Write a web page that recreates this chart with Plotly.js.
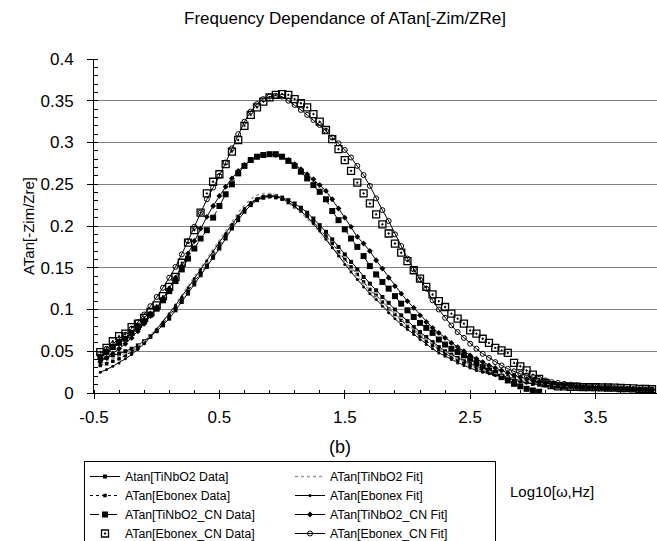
<!DOCTYPE html>
<html>
<head>
<meta charset="utf-8">
<script src="https://cdn.plot.ly/plotly-3.0.1.min.js"></script>
<style>html,body{margin:0;padding:0;background:#fff;}#chart{width:657px;height:541px;}</style>
</head>
<body>
<div id="chart"></div>
<script>
// log10 of angular frequency (x values)
const logw = [-0.45,-0.4,-0.35,-0.3,-0.25,-0.2,-0.15,-0.1,-0.05,0,
0.05,0.1,0.15,0.2,0.25,0.3,0.35,0.4,0.45,0.5,
0.55,0.6,0.65,0.7,0.75,0.8,0.85,0.9,0.95,1,
1.05,1.1,1.15,1.2,1.25,1.3,1.35,1.4,1.45,1.5,
1.55,1.6,1.65,1.7,1.75,1.8,1.85,1.9,1.95,2,
2.05,2.1,2.15,2.2,2.25,2.3,2.35,2.4,2.45,2.5,
2.55,2.6,2.65,2.7,2.75,2.8,2.85,2.9,2.95,3,
3.05,3.1,3.15,3.2,3.25,3.3,3.35,3.4,3.45,3.5,
3.55,3.6,3.65,3.7,3.75,3.8,3.85,3.9,3.95];

const tiNbO2Data = [.040,.042,.045,.047,.050,.053,.057,.062,.068,.074,
.081,.089,.099,.109,.119,.130,.141,.151,.162,.173,
.185,.197,.207,.217,.225,.231,.234,.236,.236,.234,
.231,.227,.222,.216,.209,.201,.193,.184,.175,.166,
.157,.148,.139,.131,.123,.115,.108,.100,.093,.086,
.079,.073,.067,.061,.055,.050,.046,.042,.038,.035,
.032,.029,.026,.023,.021,.019,.017,.015,.013,.011,
.010,.009,.008,.0075,.007,.0068,.0065,.0062,.006,.0058,
.0056,.0054,.0052,.005,.0048,.0046,.0044,.0042,.004];

const tiNbO2Fit = [.036,.038,.041,.044,.047,.051,.056,.062,.069,.077,
.086,.096,.106,.117,.128,.139,.150,.161,.172,.184,
.195,.206,.216,.225,.232,.237,.239,.239,.237,.233,
.228,.222,.216,.209,.201,.193,.184,.175,.166,.157,
.148,.140,.131,.123,.116,.108,.101,.094,.088,.082,
.076,.070,.064,.059,.054,.049,.045,.041,.037,.034,
.031,.028,.026,.023,.021,.019,.017,.015,.0135,.012,
.011,.010,.009,.0085,.008,.0074,.007,.0066,.0062,.0058,
.0055,.0052,.005,.0047,.0045,.0043,.0041,.0039,.0037];

const ebonexData = [.033,.035,.038,.041,.045,.049,.054,.060,.067,.075,
.083,.092,.102,.112,.122,.133,.144,.153,.164,.176,
.188,.200,.210,.220,.227,.232,.234,.235,.234,.232,
.228,.223,.218,.212,.205,.197,.188,.179,.169,.160,
.151,.142,.133,.124,.117,.109,.101,.094,.087,.080,
.074,.068,.062,.057,.052,.047,.043,.039,.036,.033,
.030,.027,.025,.022,.020,.018,.016,.0145,.013,.012,
.011,.010,.009,.0085,.008,.0075,.007,.0066,.0063,.006,
.0057,.0054,.0052,.005,.0048,.0046,.0044,.0042,.004];

const ebonexFit = [.025,.028,.032,.036,.041,.046,.052,.059,.067,.076,
.085,.095,.105,.115,.126,.137,.148,.158,.169,.180,
.191,.202,.212,.221,.228,.233,.236,.236,.235,.233,
.229,.224,.218,.211,.203,.194,.184,.174,.164,.154,
.145,.136,.127,.119,.112,.104,.096,.089,.082,.076,
.070,.064,.058,.053,.048,.044,.040,.036,.033,.030,
.027,.025,.023,.021,.019,.017,.015,.0135,.012,.011,
.010,.009,.0082,.0076,.007,.0066,.0062,.0058,.0055,.0052,
.005,.0048,.0046,.0044,.0042,.004,.0038,.0036,.0035];

const tiNbO2CNData = [.043,.049,.055,.060,.065,.072,.079,.086,.094,.101,
.111,.122,.134,.148,.161,.173,.185,.195,.210,.224,
.238,.250,.263,.272,.279,.283,.285,.286,.286,.283,
.278,.272,.265,.257,.249,.241,.232,.218,.207,.196,
.185,.175,.164,.152,.142,.133,.125,.116,.107,.099,
.091,.084,.078,.072,.064,.058,.053,.049,.045,.041,
.036,.031,.027,.024,.019,.015,.011,.008,.005,.003,
.0015];

const tiNbO2CNFit = [.037,.042,.047,.053,.059,.066,.074,.083,.092,.102,
.113,.125,.138,.152,.167,.182,.197,.211,.224,.236,
.247,.257,.266,.273,.279,.283,.285,.286,.285,.283,
.279,.274,.268,.262,.256,.249,.242,.232,.221,.210,
.199,.187,.179,.170,.159,.149,.138,.128,.119,.110,
.102,.093,.085,.078,.072,.066,.060,.055,.050,.045,
.041,.037,.033,.030,.027,.024,.021,.019,.017,.015,
.013,.012,.011,.010,.009,.0085,.008,.0075,.007,.0065,
.006,.0058,.0055,.0052,.005,.0047,.0045,.0042,.004];

const ebonexCNData = [.049,.054,.062,.068,.071,.079,.083,.090,.097,.105,
.116,.127,.139,.156,.180,.195,.216,.239,.253,.262,
.274,.289,.303,.320,.333,.342,.349,.354,.357,.358,
.357,.352,.347,.342,.334,.325,.315,.304,.292,.279,
.266,.252,.239,.227,.214,.202,.191,.179,.168,.158,
.147,.137,.127,.118,.110,.103,.095,.089,.083,.075,
.071,.065,.060,.054,.051,.048,.036,.032,.027,.022,
.017,.012,.0095,.008,.008,.0075,.0075,.007,.007,.007,
.0068,.0066,.0064,.006,.0058,.0055,.005,.0048,.0045];

const ebonexCNFit = [.047,.053,.058,.064,.070,.077,.085,.094,.104,.115,
.126,.138,.151,.166,.182,.199,.216,.232,.246,.260,
.276,.293,.310,.325,.337,.346,.352,.355,.356,.355,
.350,.345,.339,.333,.327,.321,.314,.306,.299,.291,
.282,.272,.261,.248,.233,.219,.206,.190,.176,.161,
.148,.136,.125,.111,.100,.090,.081,.073,.066,.059,
.053,.047,.042,.037,.033,.029,.026,.023,.021,.019,
.017,.015,.013,.012,.011,.010,.009,.0085,.008,.0075,
.007,.0065,.006,.0055,.005,.0048,.0045,.0042,.004];

const xTickVals = [-0.5, 0.5, 1.5, 2.5, 3.5];
const yTickVals = [0, 0.05, 0.1, 0.15, 0.2, 0.25, 0.3, 0.35, 0.4];

const FONT = 'Liberation Sans, Arial, Helvetica, sans-serif';

const traces = [
  {name:'ATan[Ebonex_CN Data]', x: logw.slice(0, ebonexCNData.length), y: ebonexCNData, mode:'markers', legendrank:7,
   marker:{symbol:'square-open-dot', size:7, color:'#000', line:{width:1.3, color:'#000'}}},
  {name:'ATan[TiNbO2_CN Data]', x: logw.slice(0, tiNbO2CNData.length), y: tiNbO2CNData, mode:'lines+markers', legendrank:5,
   line:{color:'#000', width:1, dash:'dash'}, marker:{symbol:'square', size:6, color:'#000'}},
  {name:'Atan[TiNbO2 Data]', x: logw.slice(0, tiNbO2Data.length), y: tiNbO2Data, mode:'lines+markers', legendrank:1,
   line:{color:'#000', width:1}, marker:{symbol:'square', size:4, color:'#000'}},
  {name:'ATan[Ebonex Data]', x: logw.slice(0, ebonexData.length), y: ebonexData, mode:'lines+markers', legendrank:3,
   line:{color:'#000', width:1, dash:'dot'}, marker:{symbol:'square', size:3.5, color:'#000'}},
  {name:'ATan[TiNbO2 Fit]', x: logw.slice(0, tiNbO2Fit.length), y: tiNbO2Fit, mode:'lines', legendrank:2,
   line:{color:'#9a9a9a', width:1.5, dash:'dot'}},
  {name:'ATan[Ebonex Fit]', x: logw.slice(0, ebonexFit.length), y: ebonexFit, mode:'lines+markers', legendrank:4,
   line:{color:'#000', width:1}, marker:{symbol:'circle', size:3, color:'#000'}},
  {name:'ATan[TiNbO2_CN Fit]', x: logw.slice(0, tiNbO2CNFit.length), y: tiNbO2CNFit, mode:'lines+markers', legendrank:6,
   line:{color:'#000', width:1}, marker:{symbol:'diamond', size:4.5, color:'#000'}},
  {name:'ATan[Ebonex_CN Fit]', x: logw.slice(0, ebonexCNFit.length), y: ebonexCNFit, mode:'lines+markers', legendrank:8,
   line:{color:'#000', width:1}, marker:{symbol:'circle-open', size:5, color:'#000', line:{width:1}}}
];

const layout = {
  width: 657, height: 541,
  margin: {l: 94, r: 0, t: 59, b: 148, pad: 0},
  paper_bgcolor: '#fff', plot_bgcolor: '#fff',
  font: {family: FONT, color: '#000'},
  showlegend: true,
  title: {text: 'Frequency Dependance of ATan[-Zim/ZRe]', font: {size: 17, family: FONT, color: '#000'},
          xref: 'container', x: 345/657, xanchor: 'center', yref: 'container', y: 1 - 18/541, yanchor: 'middle'},
  xaxis: {
    range: [-0.5, 3.99], tickmode: 'array', tickvals: xTickVals, ticktext: xTickVals.map(v => String(v)),
    showgrid: false, zeroline: false, showline: true, linecolor: '#000', linewidth: 1,
    ticks: 'outside', ticklen: 5, tickcolor: '#000', tickfont: {size: 17, family: FONT},
    ticklabelstandoff: 4,
    minor: {ticks: 'inside', ticklen: 3, tickcolor: '#000', dtick: 0.2, tick0: -0.5, showgrid: false}
  },
  yaxis: {
    range: [0, 0.4], tickmode: 'array', tickvals: yTickVals, ticktext: yTickVals.map(v => String(v)),
    showgrid: true, gridcolor: '#808080', gridwidth: 1, zeroline: false,
    showline: true, linecolor: '#000', linewidth: 1,
    ticks: 'outside', ticklen: 6, tickcolor: '#000', tickfont: {size: 17, family: FONT},
    ticklabelstandoff: 10,
    minor: {ticks: 'inside', ticklen: 4, tickcolor: '#000', dtick: 0.01, tick0: 0, showgrid: false},
    title: {text: 'ATan[-Zim/Zre]', font: {size: 15, family: FONT}, standoff: 2}
  },
  legend: {
    orientation: 'h', xref: 'container', yref: 'container',
    x: 84/657, xanchor: 'left', y: 1 - 461/541, yanchor: 'top',
    entrywidth: 160, entrywidthmode: 'pixels',
    bordercolor: '#000', borderwidth: 1, bgcolor: '#fff',
    font: {size: 12.3, family: FONT, color: '#000'}, traceorder: 'normal', itemwidth: 30
  },
  annotations: [
    {text: '(b)', xref: 'paper', yref: 'paper', x: (340-94)/563, y: (393-447)/334, showarrow: false,
     xanchor: 'center', yanchor: 'middle', font: {size: 18, family: FONT}},
    {text: 'Log10[ω,Hz]', xref: 'paper', yref: 'paper', x: (552-94)/563, y: (393-491)/334, showarrow: false,
     xanchor: 'center', yanchor: 'middle', font: {size: 15, family: FONT}}
  ]
};

Plotly.newPlot('chart', traces, layout, {displayModeBar: false, staticPlot: true});
</script>
</body>
</html>
